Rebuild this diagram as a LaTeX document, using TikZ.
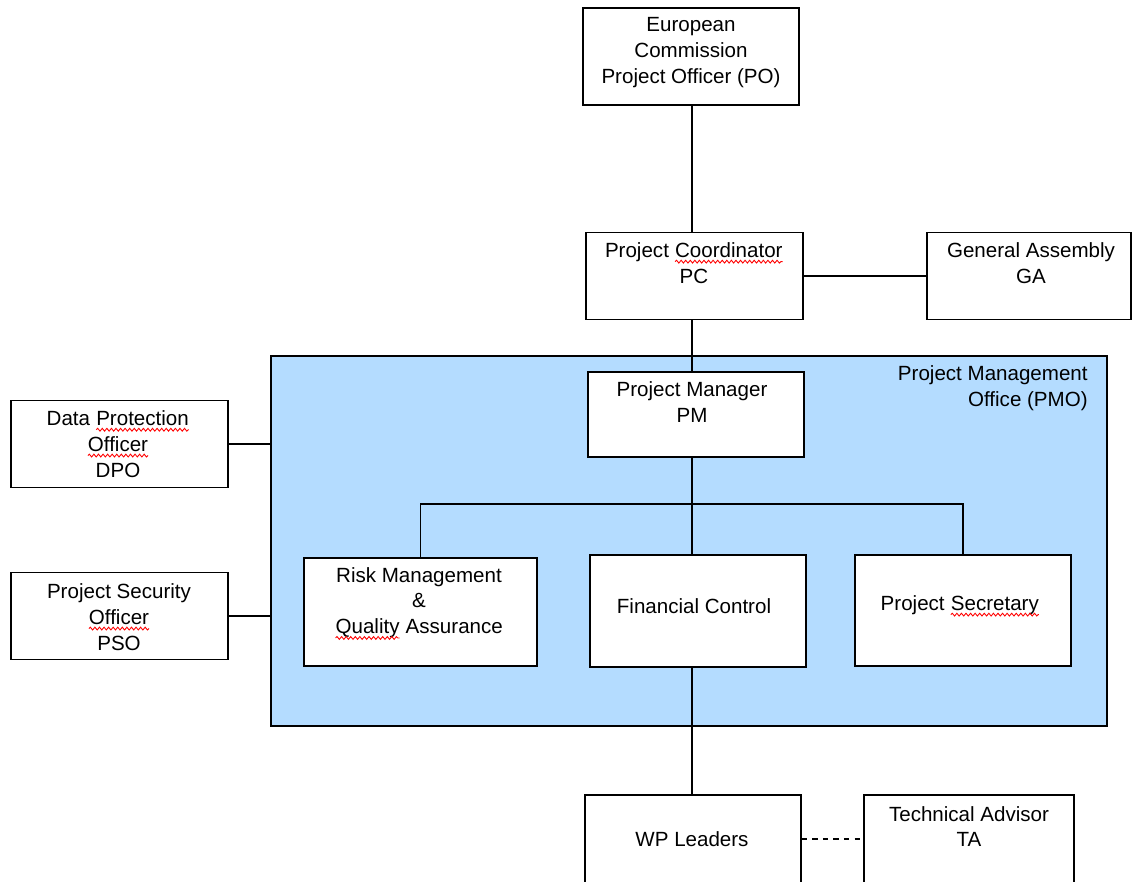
\documentclass[tikz,border=0pt]{standalone}
\usepackage{fontspec}
\setmainfont{Liberation Sans}
\usepackage{xcolor}
\usetikzlibrary{decorations.pathmorphing}
\definecolor{pmofill}{RGB}{180,220,255}
\newcommand\spellmark[1]{\tikz[baseline=(w.base), x=1cm, y=1cm]{\node[inner sep=0, outer sep=0] (w) {#1};
 \draw[red, line width=0.5pt, decorate, decoration={snake, amplitude=0.8pt, segment length=2.6pt}] ([yshift=-2.4pt]w.base west) -- ([yshift=-2.4pt]w.base east);}}
\tikzset{box/.style={draw, fill=white, line width=0.9pt, inner sep=0},
 sz/.style 2 args={minimum width=#1*0.02cm, minimum height=#2*0.02cm},
 txt/.style={align=center, inner sep=0, font=\fontsize{11.7}{14.7}\selectfont},
 link/.style={line width=1pt},
 }

\begin{document}
\begin{tikzpicture}[x=0.02cm, y=-0.02cm]
        \useasboundingbox (0,0) rectangle (1134,882);
        \coordinate (spine) at (692,0);
        \coordinate (fork) at (692,504);
        \node[box, fill=pmofill, sz={836}{370}] (pmo) at (689,541) {};
        \node[box, sz={216}{97}] (po) at (691,56.5) {};
        \node[box, sz={217}{87}] (pc) at (694.5,276) {};
        \node[box, sz={204}{87}] (ga) at (1029,276) {};
        \node[box, sz={216}{85}] (pm) at (696,414.5) {};
        \node[box, sz={233}{108}] (rm) at (420.5,612) {};
        \node[box, sz={216}{112}] (fc) at (698,611) {};
        \node[box, sz={216}{111}] (ps) at (963,610.5) {};
        \node[box, sz={216}{88}] (wp) at (693,839) {};
        \node[box, sz={210}{88}] (ta) at (969,839) {};
        \node[box, sz={217}{87}] (dpo) at (119.5,444) {};
        \node[box, sz={217}{87}] (pso) at (119.5,616) {};
        \node[txt] (potext) at (691,52.5) {European\\Commission\\Project Officer (PO)};
        \node[txt] (pctext) at (694,263) {Project \spellmark{Coordinator}\\PC};
        \node[txt] (gatext) at (1031,263) {General Assembly\\GA};
        \node[txt, align=right, anchor=north east] (pmotext) at (1088,365) {Project Management\\Office (PMO)};
        \node[txt] (pmtext) at (692,402) {Project Manager\\PM};
        \node[txt] (rmtext) at (419,603.5) {Risk Management\\\&\\\spellmark{Quality} Assurance};
        \node[txt] (fctext) at (694,606) {Financial Control};
        \node[txt] (pstext) at (960,606) {Project \spellmark{Secretary}};
        \node[txt] (wptext) at (692,839) {WP Leaders};
        \node[txt] (tatext) at (969,826.5) {Technical Advisor\\TA};
        \node[txt] (dpotext) at (118,444) {Data \spellmark{Protection}\\\spellmark{Officer}\\DPO};
        \node[txt] (psotext) at (119,617) {Project Security\\\spellmark{Officer}\\PSO};
        \draw[link] (spine |- po.south) -- (spine |- pc.north);
        \draw[link] (pc.east) -- (ga.west);
        \draw[link] (spine |- pc.south) -- (spine |- pm.north);
        \draw[link] (spine |- pm.south) -- (spine |- fc.north);
        \draw[link] (rm.north) |- (fork) -| (ps.north);
        \draw[link] (spine |- fc.south) -- (spine |- wp.north);
        \draw[link, dashed] (wp.east) -- (ta.west);
        \draw[link] (dpo.east) -- (dpo.east -| pmo.west);
        \draw[link] (pso.east) -- (pso.east -| pmo.west);
    \end{tikzpicture}
\end{document}
